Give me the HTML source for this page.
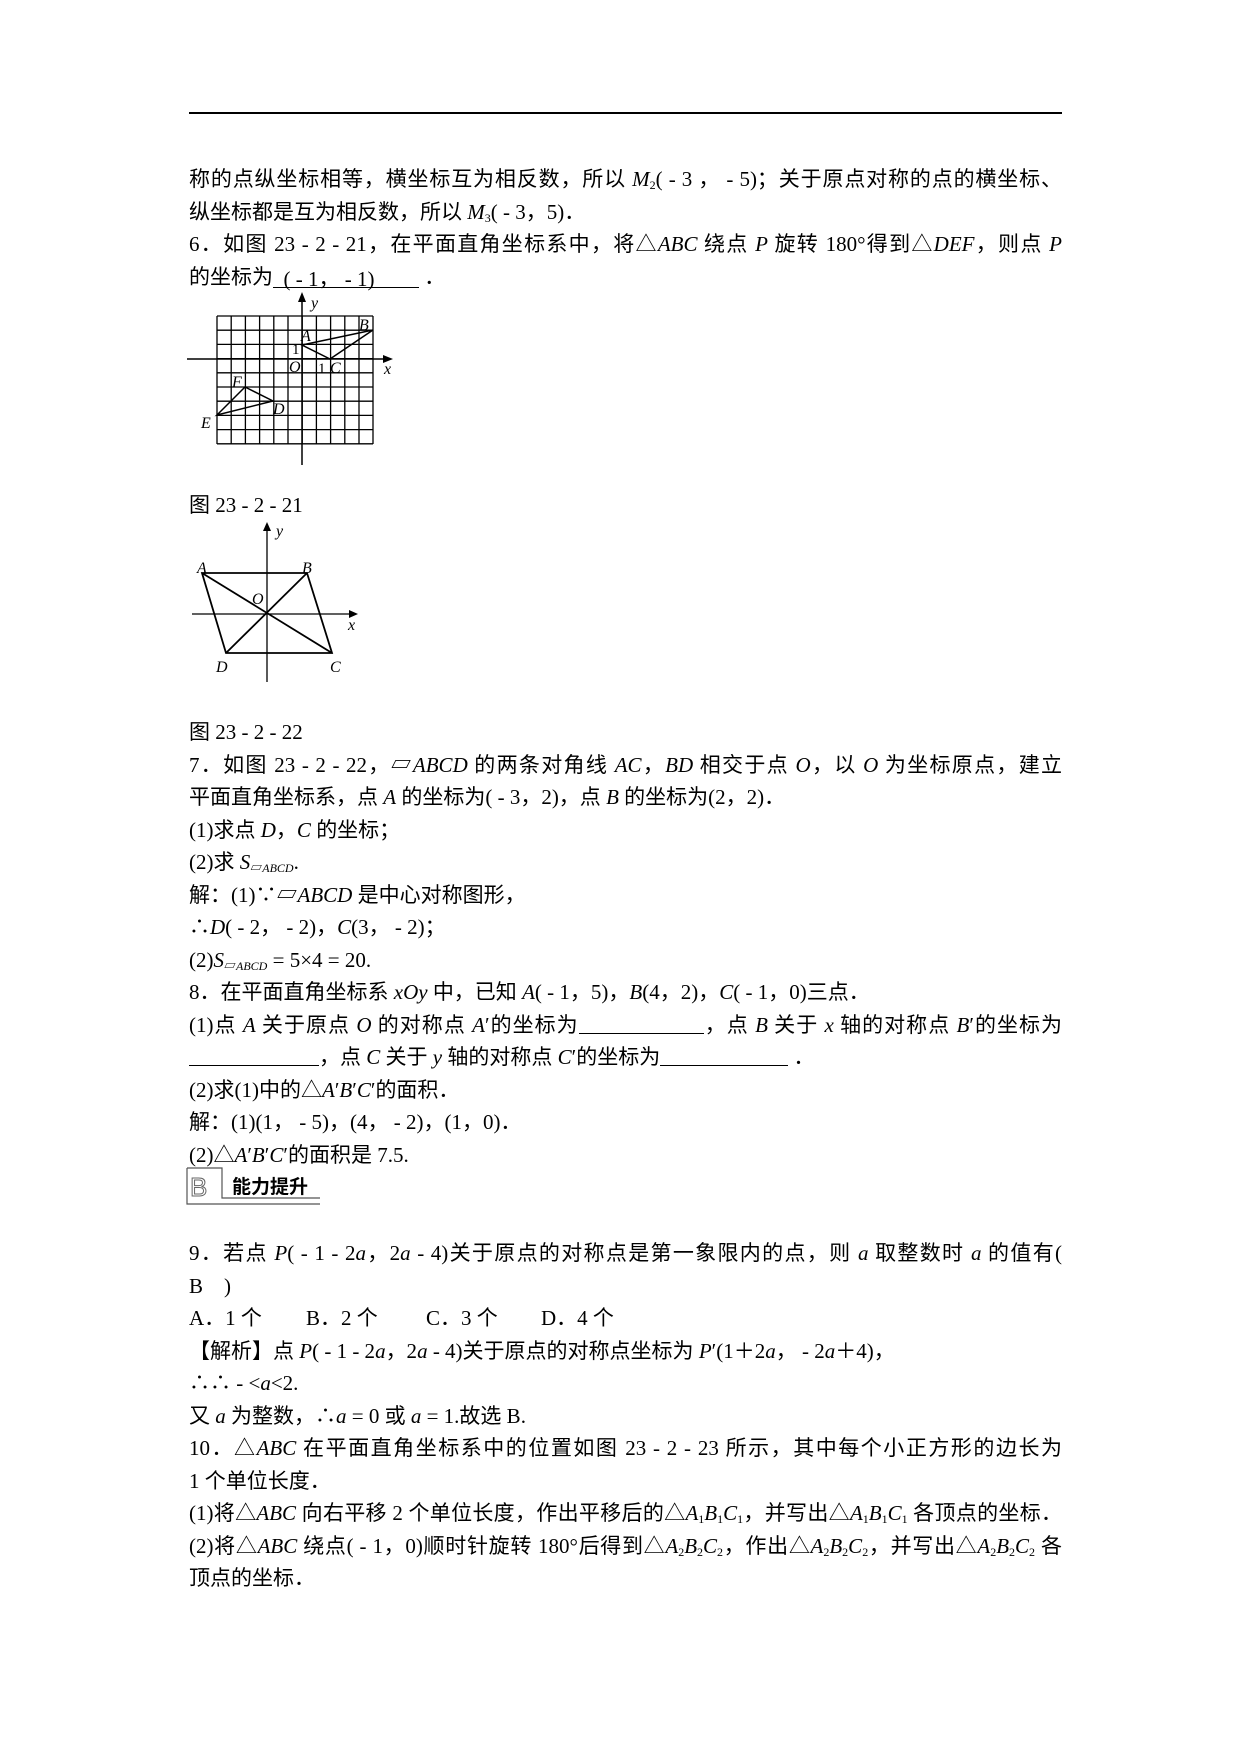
<!DOCTYPE html>
<html><head><meta charset="utf-8">
<style>
body{margin:0;background:#fff;}
#pg{position:relative;width:1240px;height:1754px;overflow:hidden;background:#fff;color:#000;
font-family:"Liberation Serif","Noto Sans CJK SC",serif;font-size:21px;}
.l{position:absolute;left:189px;line-height:24px;white-space:nowrap;}
.j{width:873px;text-align:justify;text-align-last:justify;}
i{font-family:"Liberation Serif",serif;font-style:italic;}
sub{font-size:12px;vertical-align:-3px;line-height:0;}
.bl{display:inline-block;border-bottom:1px solid #000;height:20px;vertical-align:-2px;}
</style></head><body><div id="pg">
<div style="position:absolute;left:189px;top:112px;width:873px;height:2px;background:#000"></div>

<div class="l j" style="top:167px">称的点纵坐标相等，横坐标互为相反数，所以 <i>M</i><sub>2</sub>( - 3 ， - 5)；关于原点对称的点的横坐标、</div>
<div class="l" style="top:200px">纵坐标都是互为相反数，所以 <i>M</i><sub>3</sub>( - 3，5)．</div>
<div class="l j" style="top:232px">6．如图 23 - 2 - 21，在平面直角坐标系中，将△<i>ABC</i> 绕点 <i>P</i> 旋转 180°得到△<i>DEF</i>，则点 <i>P</i></div>
<div class="l" style="top:265px">的坐标为<span class="bl" style="width:146px">&nbsp;&nbsp;( - 1， - 1)</span>&nbsp;．</div>

<svg style="position:absolute;left:0;top:0" width="1240" height="1754">
<g stroke="#000" stroke-width="1.3" fill="none">
<path d="M217 316V444M231.2 316V444M245.4 316V444M259.6 316V444M273.8 316V444M288 316V444M302.2 316V444M316.4 316V444M330.6 316V444M344.8 316V444M359 316V444M373 316V444"/>
<path d="M217 316H373M217 330.2H373M217 344.4H373M217 358.6H373M217 372.8H373M217 387H373M217 401.2H373M217 415.4H373M217 429.6H373M217 443.8H373"/>
<path d="M187 359H390M302 296V465" stroke-width="1.5"/>
<path d="M302 345L373 330L330 359Z" stroke-width="1.5"/>
<path d="M217 415L245 387L273 401Z" stroke-width="1.5"/>
<path d="M192 614H355M267 525V682" stroke-width="1.3"/>
<path d="M202 573H307L332 653H226Z M202 573L332 653 M307 573L226 653" stroke-width="1.8"/>
</g>
<g fill="#000">
<path d="M302 292L298 302L306 302Z"/><path d="M393 359L383 355L383 363Z"/>
<path d="M267 522L263 531L271 531Z"/><path d="M358 614L349 610L349 618Z"/>
</g>
<g font-family="Liberation Serif" font-style="italic" font-size="16">
<text x="311" y="308">y</text><text x="384" y="374">x</text>
<text x="301" y="341">A</text><text x="359" y="330">B</text><text x="330" y="373">C</text>
<text x="289" y="372">O</text><text x="232" y="387">F</text><text x="201" y="428">E</text><text x="273" y="414">D</text>
<text x="276" y="536">y</text><text x="348" y="630">x</text>
<text x="197" y="573">A</text><text x="302" y="573">B</text><text x="330" y="672">C</text><text x="216" y="672">D</text><text x="252" y="604">O</text>
</g>
<g font-family="Liberation Serif" font-size="15"><text x="292" y="354">1</text><text x="318" y="373">1</text></g>
<path d="M187 1168H222V1198H320 M187 1168V1204H320" stroke="#555" stroke-width="1.2" fill="none"/>
<text x="190" y="1196" font-family="Liberation Sans" font-size="26" fill="none" stroke="#666" stroke-width="1">B</text>
<text x="232" y="1193" font-family="Noto Sans CJK SC" font-weight="bold" font-size="19">能力提升</text>
</svg>

<div class="l" style="top:493px">图 23 - 2 - 21</div>
<div class="l" style="top:720px">图 23 - 2 - 22</div>
<div class="l j" style="top:753px">7．如图 23 - 2 - 22，▱<i>ABCD</i> 的两条对角线 <i>AC</i>，<i>BD</i> 相交于点 <i>O</i>，以 <i>O</i> 为坐标原点，建立</div>
<div class="l" style="top:785px">平面直角坐标系，点 <i>A</i> 的坐标为( - 3，2)，点 <i>B</i> 的坐标为(2，2)．</div>
<div class="l" style="top:818px">(1)求点 <i>D</i>，<i>C</i> 的坐标；</div>
<div class="l" style="top:850px">(2)求 <i>S</i><sub>▱<i>ABCD</i></sub>.</div>
<div class="l" style="top:883px">解：(1)∵▱<i>ABCD</i> 是中心对称图形，</div>
<div class="l" style="top:915px">∴<i>D</i>( - 2， - 2)，<i>C</i>(3， - 2)；</div>
<div class="l" style="top:948px">(2)<i>S</i><sub>▱<i>ABCD</i></sub> = 5×4 = 20.</div>
<div class="l" style="top:980px">8．在平面直角坐标系 <i>xOy</i> 中，已知 <i>A</i>( - 1，5)，<i>B</i>(4，2)，<i>C</i>( - 1，0)三点．</div>
<div class="l j" style="top:1013px">(1)点 <i>A</i> 关于原点 <i>O</i> 的对称点 <i>A</i>′的坐标为<span class="bl" style="width:125px"></span>，点 <i>B</i> 关于 <i>x</i> 轴的对称点 <i>B</i>′的坐标为</div>
<div class="l" style="top:1045px"><span class="bl" style="width:130px"></span>，点 <i>C</i> 关于 <i>y</i> 轴的对称点 <i>C</i>′的坐标为<span class="bl" style="width:128px"></span>&nbsp;．</div>
<div class="l" style="top:1078px">(2)求(1)中的△<i>A</i>′<i>B</i>′<i>C</i>′的面积．</div>
<div class="l" style="top:1110px">解：(1)(1， - 5)，(4， - 2)，(1，0)．</div>
<div class="l" style="top:1143px">(2)△<i>A</i>′<i>B</i>′<i>C</i>′的面积是 7.5.</div>

<div class="l j" style="top:1241px">9．若点 <i>P</i>( - 1 - 2<i>a</i>，2<i>a</i> - 4)关于原点的对称点是第一象限内的点，则 <i>a</i> 取整数时 <i>a</i> 的值有(</div>
<div class="l" style="top:1274px">B　)</div>
<div class="l" style="top:1306px">A．1 个</div>
<div class="l" style="top:1306px;left:306px">B．2 个</div>
<div class="l" style="top:1306px;left:426px">C．3 个</div>
<div class="l" style="top:1306px;left:541px">D．4 个</div>
<div class="l" style="top:1339px">【解析】点 <i>P</i>( - 1 - 2<i>a</i>，2<i>a</i> - 4)关于原点的对称点坐标为 <i>P</i>′(1＋2<i>a</i>， - 2<i>a</i>＋4)，</div>
<div class="l" style="top:1371px">∴∴ - &lt;<i>a</i>&lt;2.</div>
<div class="l" style="top:1404px">又 <i>a</i> 为整数，∴<i>a</i> = 0 或 <i>a</i> = 1.故选 B.</div>
<div class="l j" style="top:1436px">10．△<i>ABC</i> 在平面直角坐标系中的位置如图 23 - 2 - 23 所示，其中每个小正方形的边长为</div>
<div class="l" style="top:1469px">1 个单位长度．</div>
<div class="l j" style="top:1501px">(1)将△<i>ABC</i> 向右平移 2 个单位长度，作出平移后的△<i>A</i><sub>1</sub><i>B</i><sub>1</sub><i>C</i><sub>1</sub>，并写出△<i>A</i><sub>1</sub><i>B</i><sub>1</sub><i>C</i><sub>1</sub> 各顶点的坐标．</div>
<div class="l j" style="top:1534px">(2)将△<i>ABC</i> 绕点( - 1，0)顺时针旋转 180°后得到△<i>A</i><sub>2</sub><i>B</i><sub>2</sub><i>C</i><sub>2</sub>，作出△<i>A</i><sub>2</sub><i>B</i><sub>2</sub><i>C</i><sub>2</sub>，并写出△<i>A</i><sub>2</sub><i>B</i><sub>2</sub><i>C</i><sub>2</sub> 各</div>
<div class="l" style="top:1566px">顶点的坐标．</div>
</div></body></html>
